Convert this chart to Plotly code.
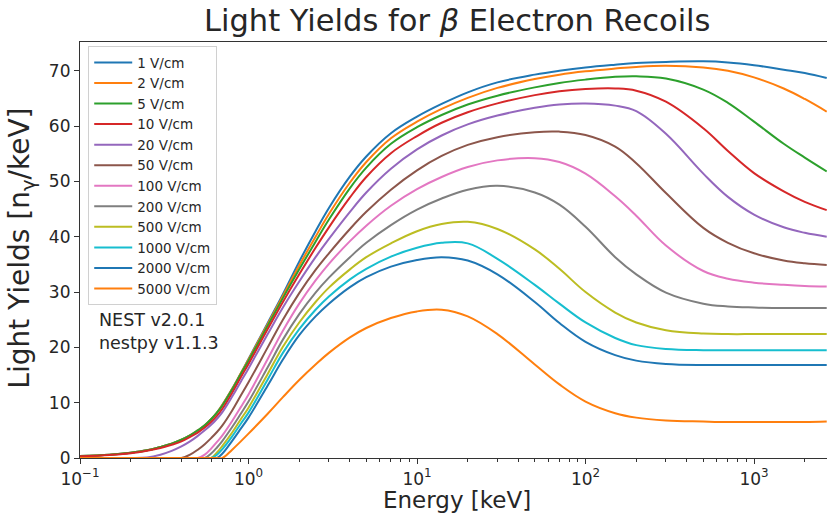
import plotly.graph_objects as go

energy_keV = [0.1, 0.15, 0.2, 0.25, 0.3, 0.35, 0.4, 0.45, 0.5, 0.55, 0.6, 0.65, 0.7, 0.8, 0.9,
              1, 1.3, 1.6, 2, 2.5, 3, 4, 5, 7, 10, 14, 20, 30, 50, 70, 100, 150, 200, 300,
              500, 700, 1000, 1500, 2000, 2700]

field_labels = ["1 V/cm", "2 V/cm", "5 V/cm", "10 V/cm", "20 V/cm", "50 V/cm", "100 V/cm",
                "200 V/cm", "500 V/cm", "1000 V/cm", "2000 V/cm", "5000 V/cm"]

ly_1 = [0.35, 0.6, 0.95, 1.4, 2.0, 2.6, 3.3, 4.1, 5.0, 5.9, 7.0, 8.2, 9.6, 12.5, 15.3,
        17.9, 24.4, 29.6, 35.5, 41.0, 45.2, 50.9, 54.5, 58.7, 61.7, 64.0, 66.1, 67.9, 69.3, 70.0,
        70.6, 71.1, 71.4, 71.6, 71.7, 71.5, 71.0, 70.2, 69.6, 68.7]
ly_2 = [0.35, 0.6, 0.95, 1.4, 2.0, 2.6, 3.3, 4.1, 5.0, 5.9, 7.0, 8.2, 9.6, 12.5, 15.3,
        17.8, 24.2, 29.3, 34.8, 40.0, 44.1, 49.8, 53.5, 57.8, 60.8, 63.1, 65.1, 66.9, 68.5, 69.3,
        69.9, 70.4, 70.7, 70.9, 70.6, 70.0, 68.8, 66.8, 64.9, 62.6]
ly_5 = [0.35, 0.6, 0.95, 1.4, 2.0, 2.6, 3.3, 4.1, 5.0, 5.9, 7.0, 8.2, 9.5, 12.4, 15.2,
        17.6, 23.9, 28.9, 34.1, 39.1, 43.1, 48.8, 52.5, 56.8, 59.8, 62.0, 63.9, 65.5, 67.0, 67.8,
        68.4, 68.9, 69.0, 68.6, 66.6, 64.2, 60.8, 56.8, 54.3, 51.8]
ly_10 = [0.3, 0.55, 0.85, 1.3, 1.8, 2.4, 3.0, 3.8, 4.6, 5.5, 6.5, 7.6, 8.9, 11.8, 14.6,
         17.0, 23.3, 28.2, 33.2, 38.0, 41.7, 47.1, 50.8, 55.1, 58.2, 60.6, 62.5, 64.1, 65.6, 66.3,
         66.7, 66.8, 66.4, 64.4, 59.6, 55.5, 51.5, 48.2, 46.3, 44.8]
ly_20 = [0, 0, 0, 0.1, 0.6, 1.3, 2.1, 3.0, 4.0, 5.0, 6.0, 7.1, 8.3, 11.1, 13.8,
         16.2, 22.4, 27.2, 31.9, 36.3, 39.6, 44.5, 48.0, 52.3, 55.8, 58.3, 60.3, 61.9, 63.3, 63.9,
         64.1, 63.7, 62.7, 58.6, 51.4, 47.2, 44.0, 41.7, 40.7, 40.0]
ly_50 = [0, 0, 0, 0, 0, 0, 0, 0.6, 1.5, 2.5, 3.6, 4.7, 5.9, 8.6, 11.3,
         13.7, 20.0, 25.0, 29.8, 34.0, 37.0, 41.4, 44.5, 48.5, 52.0, 54.6, 56.6, 58.0, 58.9, 59.0,
         58.4, 56.3, 53.3, 47.9, 41.6, 38.9, 37.0, 35.7, 35.2, 34.9]
ly_100 = [0, 0, 0, 0, 0, 0, 0, 0, 0, 0.6, 1.7, 2.9, 4.1, 6.7, 9.2,
          11.5, 17.9, 23.0, 27.9, 32.1, 35.1, 39.2, 42.0, 45.6, 48.6, 50.8, 52.6, 53.8, 54.2, 53.5,
          51.4, 47.3, 43.8, 38.4, 33.8, 32.4, 31.7, 31.3, 31.1, 31.0]
ly_200 = [0, 0, 0, 0, 0, 0, 0, 0, 0, 0, 0.8, 1.9, 3.1, 5.6, 8.0,
          10.2, 16.4, 21.4, 26.0, 29.9, 32.6, 36.3, 38.9, 42.1, 44.9, 46.9, 48.5, 49.2, 48.0, 45.8,
          41.8, 36.3, 33.2, 29.9, 27.9, 27.4, 27.2, 27.1, 27.1, 27.1]
ly_500 = [0, 0, 0, 0, 0, 0, 0, 0, 0, 0, 0, 1.0, 2.2, 4.6, 7.0,
          9.1, 15.2, 20.1, 24.5, 28.2, 30.8, 34.1, 36.3, 38.8, 41.0, 42.3, 42.7, 41.4, 37.7, 34.2,
          30.0, 26.3, 24.5, 23.1, 22.5, 22.4, 22.4, 22.4, 22.4, 22.4]
ly_1000 = [0, 0, 0, 0, 0, 0, 0, 0, 0, 0, 0, 0.6, 1.6, 3.9, 6.2,
           8.2, 14.2, 19.0, 23.3, 26.8, 29.2, 32.3, 34.2, 36.4, 38.0, 38.9, 38.8, 36.0, 31.3, 27.9,
           24.5, 21.7, 20.4, 19.7, 19.5, 19.5, 19.5, 19.5, 19.5, 19.5]
ly_2000 = [0, 0, 0, 0, 0, 0, 0, 0, 0, 0, 0, 0, 0.8, 3.1, 5.3,
           7.3, 13.1, 17.8, 22.2, 25.6, 27.9, 30.9, 32.7, 34.6, 35.8, 36.3, 35.7, 33.2, 28.2, 24.4,
           21.0, 18.6, 17.6, 17.0, 16.8, 16.8, 16.8, 16.8, 16.8, 16.8]
ly_5000 = [0, 0, 0, 0, 0, 0, 0, 0, 0, 0, 0, 0, 0, 1.5, 3.0,
           4.4, 8.0, 11.0, 14.1, 16.9, 19.0, 21.8, 23.5, 25.3, 26.5, 26.8, 25.6, 22.4, 16.9, 13.3,
           10.2, 8.1, 7.3, 6.8, 6.6, 6.5, 6.5, 6.5, 6.5, 6.6]

series = [ly_1, ly_2, ly_5, ly_10, ly_20, ly_50, ly_100, ly_200, ly_500, ly_1000, ly_2000, ly_5000]
colors = ["#1f77b4", "#ff7f0e", "#2ca02c", "#d62728", "#9467bd", "#8c564b",
          "#e377c2", "#7f7f7f", "#bcbd22", "#17becf", "#1f77b4", "#ff7f0e"]

x_tick_vals = [0.1, 1, 10, 100, 1000]
x_tick_text = ["10<sup>−1</sup>", "10<sup>0</sup>", "10<sup>1</sup>", "10<sup>2</sup>", "10<sup>3</sup>"]

fig = go.Figure()
for name, vals, col in zip(field_labels, series, colors):
    fig.add_trace(go.Scatter(x=energy_keV, y=vals, mode="lines", name=name,
                             line=dict(color=col, width=2, shape="spline", smoothing=1.1)))

font = "DejaVu Sans"
axis_col = "#333333"
txt_col = "#262626"
fig.update_layout(
    width=827, height=513,
    margin=dict(l=80, r=0, t=42, b=55, autoexpand=False),
    paper_bgcolor="white", plot_bgcolor="white",
    font=dict(family=font, color=txt_col),
    title=dict(text="Light Yields for <i>β</i> Electron Recoils", x=0.505, xanchor="center",
               xref="paper", y=1 - 20 / 513, yanchor="middle", yref="container",
               font=dict(size=30.5, family=font, color=txt_col)),
    showlegend=True,
    legend=dict(x=0.011, y=0.99, xanchor="left", yanchor="top", itemwidth=38,
                bgcolor="white", bordercolor="#d0d0d0", borderwidth=1,
                font=dict(size=13.5, family=font, color=txt_col)),
    xaxis=dict(type="log", range=[-1, 3.433], tickvals=x_tick_vals, ticktext=x_tick_text,
               automargin=False,
               showgrid=False, zeroline=False, showline=True, linecolor=axis_col, linewidth=1.2,
               mirror=True, ticks="outside", ticklen=5, tickcolor=axis_col,
               tickfont=dict(size=17, family=font, color=txt_col),
               minor=dict(ticks="outside", ticklen=3, tickcolor=axis_col, dtick="D1", showgrid=False)),
    yaxis=dict(range=[0, 75.2], dtick=10, showgrid=False, zeroline=False, automargin=False,
               showline=True, linecolor=axis_col, linewidth=1.2,
               ticks="outside", ticklen=5, tickcolor=axis_col,
               tickfont=dict(size=17, family=font, color=txt_col)),
)

fig.add_annotation(text="Energy [keV]", xref="paper", yref="paper", x=0.505, y=-0.101,
                   yanchor="middle", xanchor="center", showarrow=False,
                   font=dict(size=23, family=font, color=txt_col))
fig.add_annotation(text="Light Yields [n<sub>γ</sub>/keV]", xref="paper", yref="paper",
                   x=-0.078, y=0.505, textangle=-90, xanchor="center", yanchor="middle",
                   showarrow=False, font=dict(size=28, family=font, color=txt_col))
fig.add_annotation(text="NEST v2.0.1<br>nestpy v1.1.3", xref="paper", yref="paper",
                   x=0.023, y=0.305, xanchor="left", yanchor="middle", align="left",
                   showarrow=False, font=dict(size=17.5, family=font, color=txt_col))

fig.write_html("out.html", config={"displayModeBar": False},
               post_script="document.body.style.margin='0';document.body.style.overflow='hidden';")
